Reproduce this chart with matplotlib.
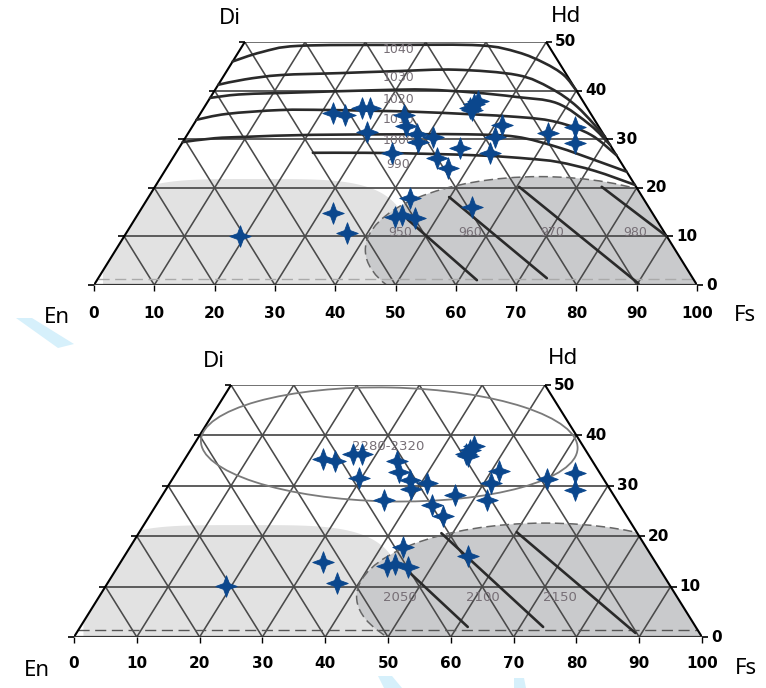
import numpy as np
import matplotlib
matplotlib.use("Agg")
import matplotlib.pyplot as plt
from matplotlib.path import Path
from matplotlib.patches import Polygon, Ellipse, PathPatch

W, H, DPI = 766, 688, 100

# ---------------- data ----------------
fs_ticks = [0, 10, 20, 30, 40, 50, 60, 70, 80, 90, 100]
wo_ticks = [0, 10, 20, 30, 40, 50]

# analysed pyroxenes, (Fs, Wo) mol %
point_fs = [19.2, 32.2, 36.6, 21.9, 24.1, 26.2, 27.6, 29.6, 35.8, 33.9, 35.4,
            38.0, 39.0, 41.0, 46.6, 43.9, 46.7, 44.2, 44.4, 44.8, 44.7, 51.2,
            51.2, 52.1, 59.7, 63.6, 65.2, 43.5, 42.9, 43.9, 46.3, 54.7]
point_wo = [10.1, 14.8, 10.7, 35.4, 35.0, 36.4, 36.4, 31.5, 27.2, 35.0, 32.7,
            31.1, 29.4, 30.5, 28.2, 26.1, 24.1, 36.4, 37.2, 37.9, 36.0, 32.9,
            30.5, 27.2, 31.3, 32.5, 29.2, 17.9, 14.0, 14.4, 13.8, 16.0]

# upper panel: augite isotherms (Fs, Wo)
iso1040_fs = [0.0, 3.8, 9.2, 25.3, 39.4, 46.3, 51.8, 56.3, 60.0]
iso1040_wo = [46.0, 47.9, 49.2, 49.4, 49.3, 47.9, 45.7, 43.2, 40.0]
iso1030_fs = [0.0, 3.85, 9.4, 19.0, 28.0, 37.85, 48.6, 55.45, 61.9, 69.5]
iso1030_wo = [41.2, 42.3, 43.2, 43.6, 44.0, 44.3, 43.2, 40.5, 36.6, 30.5]
iso1020_fs = [0.0, 4.4, 11.15, 27.25, 34.9, 43.2, 50.65, 58.1, 65.85, 71.2]
iso1020_wo = [38.5, 39.2, 39.5, 40.1, 40.2, 39.6, 38.7, 37.4, 32.9, 28.8]
iso1010_fs = [0.0, 4.4, 12.9, 21.1, 36.2, 52.7, 60.05, 66.95, 73.3]
iso1010_wo = [34.0, 35.2, 36.0, 36.0, 35.6, 34.6, 33.5, 30.9, 26.7]
iso1000_fs = [0.0, 4.9, 10.25, 20.85, 37.3, 46.5, 54.75, 62.6, 70.75, 76.7]
iso1000_wo = [29.4, 30.2, 30.5, 30.9, 31.0, 31.0, 30.5, 28.4, 25.5, 23.3]
iso990_fs = [22.7, 31.4, 41.5, 51.7, 59.0, 64.35, 71.25, 79.4]
iso990_wo = [27.2, 27.2, 27.0, 26.6, 26.0, 25.3, 23.5, 20.6]
upper_iso_names = ["1040", "1030", "1020", "1010", "1000", "990"]
upper_label_fs = [26.3, 29.2, 31.45, 33.5, 35.6, 38.15]
upper_label_wo = [48.4, 42.6, 38.1, 34.0, 29.8, 24.7]

# upper panel: pigeonite isotherms, start/end (Fs, Wo)
pig_names = ["950", "960", "970", "980"]
pig_fs_start = [45.25, 49.85, 60.4, 74.1]
pig_wo_start = [13.5, 18.1, 20.2, 20.2]
pig_fs_end = [63.0, 74.4, 90.15, 90.0]
pig_wo_end = [1.0, 1.4, 0.3, 10.0]
pig_label_fs = [45.25, 56.85, 70.55, 84.25]
pig_label_wo = [10.9, 10.9, 10.9, 10.9]

# lower panel: isotherms, start/end (Fs, Wo)
low_names = ["2050", "2100", "2150"]
low_fs_start = [47.15, 48.2, 60.1]
low_wo_start = [12.7, 20.6, 20.8]
low_fs_end = [61.7, 73.7, 89.0]
low_wo_end = [2.0, 2.0, 0.8]
low_label_fs = [47.95, 61.15, 73.45]
low_label_wo = [7.9, 7.9, 7.9]
aug_label = "2280-2320"
aug_label_fs, aug_label_wo = 31.15, 37.7

STAR_C = "#0b478d"
ISO_C = "#2a2a2a"
LAB_C = "#776f76"
GRID_C = "#4a4a4a"


def xy(fs, wo):
    fs = np.asarray(fs, float)
    wo = np.asarray(wo, float)
    return fs + wo / 2.0, wo


def smooth_path(x, y):
    pts = np.column_stack([x, y])
    n = len(pts)
    verts = [pts[0]]
    codes = [Path.MOVETO]
    for i in range(n - 1):
        p0 = pts[i - 1] if i > 0 else pts[i]
        p1, p2 = pts[i], pts[i + 1]
        p3 = pts[i + 2] if i + 2 < n else pts[i + 1]
        verts += [p1 + (p2 - p0) / 6.0, p2 - (p3 - p1) / 6.0, p2]
        codes += [Path.CURVE4] * 3
    return Path(verts, codes)


k = 0.27
star_marker = Path([(0, 1), (k, k), (1, 0), (k, -k), (0, -1),
                    (-k, -k), (-1, 0), (-k, k), (0, 1)],
                   [Path.MOVETO] + [Path.LINETO] * 7 + [Path.CLOSEPOLY])
tick_right = Path([(0, 0), (1, 0)], [Path.MOVETO, Path.LINETO])
tick_left = Path([(0, 0), (-1, 0)], [Path.MOVETO, Path.LINETO])
tick_down = Path([(0, 0), (0, -1)], [Path.MOVETO, Path.LINETO])

fig = plt.figure(figsize=(W / DPI, H / DPI), dpi=DPI)
fig.patch.set_facecolor("white")

# pale watermark strokes
for verts in ([(16, 318), (32, 318), (74, 344), (58, 348)],
              [(378, 676), (392, 676), (402, 688), (384, 688)],
              [(514, 678), (524, 678), (526, 688), (514, 688)]):
    fig.add_artist(Polygon([(vx / W, 1 - vy / H) for vx, vy in verts],
                           closed=True, transform=fig.transFigure,
                           facecolor="#d6f0fb", edgecolor="none", zorder=0))


def panel(px0, px1, py0, py1, lower):
    ax = fig.add_axes([px0 / W, 1 - py0 / H, (px1 - px0) / W, (py0 - py1) / H])
    ax.set_xlim(0, 100)
    ax.set_ylim(0, 50)
    ax.axis("off")
    trap = Polygon([(0, 0), (100, 0), (75, 50), (25, 50)], closed=True,
                   facecolor="none", edgecolor="none", transform=ax.transData)
    ax.add_patch(trap)

    # light grey field (rounded superellipse clipped by the quadrilateral)
    b_light = 22.2 if lower else 21.8
    t = np.linspace(0, np.pi, 200)
    ct, st = np.cos(t), np.sin(t)
    sx = 27 + 25.5 * np.sign(ct) * np.abs(ct) ** 0.5
    sy = b_light * np.abs(st) ** 0.5
    light = Polygon(np.column_stack([np.r_[sx, -20], np.r_[sy, 0]]), closed=True,
                    facecolor="#e2e2e2", edgecolor="none", zorder=1)
    ax.add_patch(light)
    light.set_clip_path(trap)

    # dark grey field (ellipse)
    if lower:
        ec, ea, eb = (75, 8.0), 30, 14.6
    else:
        ec, ea, eb = (74, 7.2), 29, 15.1
    dark = Ellipse(ec, 2 * ea, 2 * eb, facecolor="#c9cacc", edgecolor="none", zorder=1.2)
    ax.add_patch(dark)
    dark.set_clip_path(trap)
    dark_edge = Ellipse(ec, 2 * ea, 2 * eb, fill=False, edgecolor="#666666",
                        lw=1.1, linestyle=(0, (6, 3)), zorder=2.5)
    ax.add_patch(dark_edge)
    dark_edge.set_clip_path(trap)

    # ternary grid
    for w in wo_ticks[1:-1]:
        ax.plot([w / 2, 100 - w / 2], [w, w], color=GRID_C, lw=1.25, zorder=2)
    ax.plot([25, 75], [50, 50], color="#666666", lw=1.3, zorder=2)
    for b in fs_ticks[1:-1]:
        wtop = min(50, 100 - b)
        ax.plot([b, b + wtop / 2], [0, wtop], color=GRID_C, lw=1.15, zorder=2)
        wtop2 = min(50, b)
        ax.plot([b, b - wtop2 / 2], [0, wtop2], color=GRID_C, lw=1.15, zorder=2)
    ax.plot([0, 25], [0, 50], color="black", lw=1.5, zorder=3)
    ax.plot([100, 75], [0, 50], color="black", lw=1.5, zorder=3)
    ax.plot([0, 100], [0, 0], color="#333333", lw=1.6, zorder=3)
    ax.plot([0.65, 99.35], [1.3, 1.3], color="#555555" if lower else "#aaaaaa",
            lw=1.0, linestyle=(0, (8, 4)), zorder=2.6)

    # ticks and numbers
    bx = np.array(fs_ticks, float)
    ax.plot(bx, np.zeros_like(bx), linestyle="none", marker=tick_down,
            markersize=9, mec="black", mew=1.0, zorder=4, clip_on=False)
    wv = np.array(wo_ticks, float)
    ax.plot(100 - wv / 2, wv, linestyle="none", marker=tick_right,
            markersize=9, mec="black", mew=1.2, zorder=4, clip_on=False)
    ax.plot(wv / 2, wv, linestyle="none", marker=tick_left,
            markersize=9, mec="black", mew=1.2, zorder=4, clip_on=False)
    off = -26 if lower else -28
    for v in fs_ticks:
        ax.annotate(str(v), xy=(v, 0), xytext=(0, off * 0.72), textcoords="offset points",
                    ha="center", va="center", fontsize=11, fontweight="bold",
                    annotation_clip=False)
    for v in wo_ticks:
        ax.annotate(str(v), xy=(100 - v / 2, v), xytext=(9 * 0.72, 0),
                    textcoords="offset points", ha="left", va="center",
                    fontsize=11, fontweight="bold", annotation_clip=False)

    if not lower:
        iso = [(iso1040_fs, iso1040_wo), (iso1030_fs, iso1030_wo),
               (iso1020_fs, iso1020_wo), (iso1010_fs, iso1010_wo),
               (iso1000_fs, iso1000_wo), (iso990_fs, iso990_wo)]
        for fs_, wo_ in iso:
            X, Y = xy(fs_, wo_)
            ax.add_patch(PathPatch(smooth_path(X, Y), fill=False, edgecolor=ISO_C,
                                   lw=1.9, zorder=3.5, capstyle="round"))
        for name, f, w in zip(upper_iso_names, upper_label_fs, upper_label_wo):
            X, Y = xy(f, w)
            ax.text(X, Y, name, ha="center", va="center", fontsize=9,
                    color=LAB_C, zorder=3.8)
        for i, name in enumerate(pig_names):
            X0, Y0 = xy(pig_fs_start[i], pig_wo_start[i])
            X1, Y1 = xy(pig_fs_end[i], pig_wo_end[i])
            ax.plot([X0, X1], [Y0, Y1], color=ISO_C, lw=1.9, zorder=3.5,
                    solid_capstyle="round")
            X, Y = xy(pig_label_fs[i], pig_label_wo[i])
            ax.text(X, Y, name, ha="center", va="center", fontsize=9,
                    color=LAB_C, zorder=3.8)
    else:
        aug = Ellipse((50.2, 38.2), 60, 22.6, angle=-1.5, fill=False,
                      edgecolor="#7a7a7a", lw=1.3, zorder=3.4)
        ax.add_patch(aug)
        aug.set_clip_path(trap)
        X, Y = xy(aug_label_fs, aug_label_wo)
        ax.text(X, Y, aug_label, ha="center", va="center", fontsize=9.5,
                color=LAB_C, zorder=3.8)
        for i, name in enumerate(low_names):
            X0, Y0 = xy(low_fs_start[i], low_wo_start[i])
            X1, Y1 = xy(low_fs_end[i], low_wo_end[i])
            ax.plot([X0, X1], [Y0, Y1], color=ISO_C, lw=1.9, zorder=3.5,
                    solid_capstyle="round")
            X, Y = xy(low_label_fs[i], low_label_wo[i])
            ax.text(X, Y, name, ha="center", va="center", fontsize=9.5,
                    color=LAB_C, zorder=3.8)

    PX, PY = xy(point_fs, point_wo)
    ax.plot(PX, PY, linestyle="none", marker=star_marker, markersize=15.5,
            color=STAR_C, mec=STAR_C, mew=0.6, zorder=6, clip_on=False)
    return ax


panel(94, 697, 285, 42, lower=False)
panel(74, 702, 637, 385, lower=True)

corner = dict(fontsize=16, family="Noto Sans", ha="center", va="center")
for txt, px, py in (("Di", 230, 18), ("Hd", 566, 17), ("En", 57, 318), ("Fs", 745, 316),
                    ("Di", 214, 361), ("Hd", 563, 358), ("En", 37, 670), ("Fs", 746, 668)):
    fig.text(px / W, 1 - py / H, txt, **corner)

fig.savefig("out.png", dpi=DPI, facecolor="white")
